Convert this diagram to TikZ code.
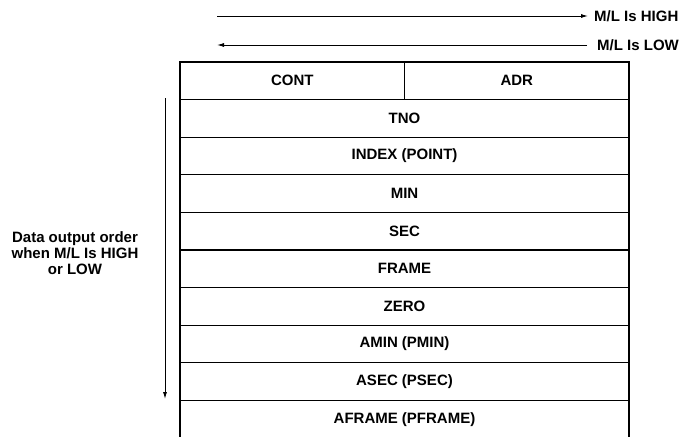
\documentclass[tikz,border=0pt]{standalone}
\usepackage{fontspec}
\setmainfont{Liberation Sans}
\usetikzlibrary{positioning,arrows.meta}

\begin{document}
\begin{tikzpicture}[x=1pt, y=-1pt,
  font=\bfseries\fontsize{15}{16}\selectfont,
  field/.style={draw, line width=1.3pt, minimum width=449pt, minimum height=37.6pt, inner sep=0pt, outer sep=0pt},
  halffield/.style={field, minimum width=224.5pt},
  sidelabel/.style={inner sep=0pt},
  flow/.style={line width=0.9pt, -{Latex[length=7pt, width=4pt]}}]
\useasboundingbox (0,0) rectangle (690,436);

% Nodes
\node[sidelabel, anchor=west] (high) at (594,16) {M/L Is HIGH};
\node[sidelabel, anchor=west] (low) at (597,45) {M/L Is LOW};
\coordinate (highstart) at (217,16);
\coordinate (lowend) at (217,45);

\node[halffield, anchor=north west] (cont) at (180,62) {CONT};
\node[halffield, right=0pt of cont] (adr) {ADR};
\node[field, anchor=north west] (tno) at (180,99.6) {TNO};
\node[field, below=0pt of tno] (index) {INDEX (POINT)};
\node[field, below=0pt of index] (min) {MIN};
\node[field, below=0pt of min] (sec) {SEC};
\node[field, below=0pt of sec] (frame) {FRAME};
\node[field, below=0pt of frame] (zero) {ZERO};
\node[field, below=0pt of zero] (amin) {AMIN (PMIN)};
\node[field, below=0pt of amin] (asec) {ASEC (PSEC)};
\node[field, below=0pt of asec] (aframe) {AFRAME (PFRAME)};

\node[sidelabel, align=center] (order) at (75,253) {Data output order\\when M/L Is HIGH\\or LOW};
\coordinate (ordertop) at (165,98);
\coordinate (orderend) at (165,399);

% Edges
\draw[flow] (highstart) -- ([xshift=-6pt]high.west);
\draw[flow] ([xshift=-10pt]low.west) -- (lowend);
\draw[flow] (ordertop) -- (orderend);
\end{tikzpicture}
\end{document}
